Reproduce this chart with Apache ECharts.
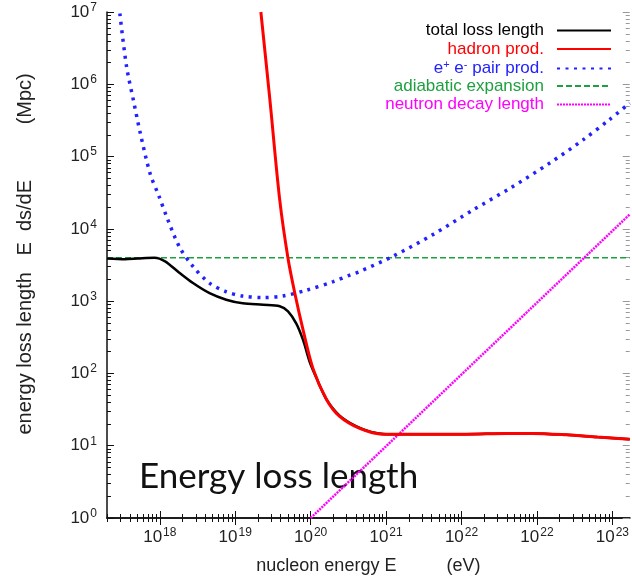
<!DOCTYPE html>
<html style="height: 100%">
<head>
<meta charset="utf-8">
<title>Energy loss length</title>
<script src="https://cdn.jsdelivr.net/npm/echarts@6/dist/echarts.min.js"></script>
</head>
<body style="height: 100%; margin: 0; background: #fff">
<div id="container" style="width:632px;height:582px"></div>
<script>
// all positions on the axes are log10 of the value
var xTickPos = [18, 19, 20, 21, 22, 23, 24];
var xTickExp = ['18', '19', '20', '21', '22', '22', '23'];   // as printed on the original
var yTickPos = [0, 1, 2, 3, 4, 5, 6, 7];

var totalE = [17.30, 17.54, 17.71, 17.93, 18.07, 18.25, 18.44, 18.66, 18.88, 19.10, 19.37, 19.59, 19.70, 19.81, 19.90, 19.99, 20.08, 20.21, 20.38, 20.60, 20.80, 21.00, 21.40, 22.06, 22.60, 22.94, 23.39, 23.80, 24.23];
var totalL = [3.59, 3.58, 3.59, 3.60, 3.55, 3.40, 3.25, 3.11, 3.02, 2.97, 2.95, 2.93, 2.86, 2.69, 2.46, 2.15, 1.93, 1.64, 1.42, 1.27, 1.19, 1.16, 1.16, 1.16, 1.17, 1.17, 1.15, 1.12, 1.09];

var hadronE = [19.34, 19.46, 19.59, 19.70, 19.79, 19.90, 20.03, 20.21, 20.38, 20.65, 20.96, 21.40, 22.06, 22.60, 22.94, 23.39, 23.80, 24.23];
var hadronL = [7.00, 5.78, 4.40, 3.59, 3.11, 2.60, 2.07, 1.64, 1.41, 1.24, 1.16, 1.16, 1.16, 1.17, 1.17, 1.15, 1.12, 1.09];

var pairE = [17.47, 17.56, 17.65, 17.74, 17.87, 17.99, 18.09, 18.26, 18.44, 18.66, 18.88, 19.10, 19.37, 19.63, 19.94, 20.30, 20.52, 20.65, 21.09, 21.62, 22.15, 22.64, 23.17, 23.61, 23.96, 24.23];
var pairL = [6.98, 6.24, 5.78, 5.33, 4.77, 4.45, 4.17, 3.75, 3.48, 3.25, 3.13, 3.07, 3.05, 3.07, 3.15, 3.27, 3.36, 3.41, 3.62, 3.92, 4.26, 4.56, 4.91, 5.23, 5.51, 5.74];

var adiabE = [17.30, 24.23];
var adiabL = [3.60, 3.60];

var neutronE = [20.00, 24.23];
var neutronL = [0.00, 4.20];

var names = ['total loss length', 'hadron prod.', 'e+ e- pair prod.', 'adiabatic expansion', 'neutron decay length'];
var colors = ['#000000', '#ff0000', '#2222ff', '#1fa040', '#ff00ff'];

function zip(a, b) {
    var out = [];
    for (var i = 0; i < a.length; i++) out.push([a[i], b[i]]);
    return out;
}

var X_MIN = 17.30, X_MAX = 24.23;

function minorTicks(lo, hi) {
    var out = [];
    for (var d = Math.floor(lo); d <= hi; d++) {
        for (var k = 2; k <= 9; k++) {
            var v = d + Math.log10(k);
            if (v > lo && v < hi) out.push(v);
        }
    }
    return out;
}

var labelFont = 'Liberation Sans';
var richLabel = {
    b: {fontSize: 17, fontFamily: labelFont, color: '#222'},
    s: {fontSize: 12, fontFamily: labelFont, color: '#222', padding: [0, 0, 9, 1]}
};

function xAxisDef(pos, major, withLabel) {
    return {
        type: 'value', position: pos, min: X_MIN, max: X_MAX,
        axisLine: {show: major, lineStyle: {color: '#111', width: 1.5}},
        splitLine: {show: false},
        axisTick: {
            show: true, inside: true, length: major ? 7 : 4,
            lineStyle: {color: '#111', width: 1},
            customValues: major ? xTickPos : minorTicks(X_MIN, X_MAX)
        },
        axisLabel: {
            show: withLabel, margin: 9, customValues: xTickPos,
            formatter: function (v) {
                var i = xTickPos.indexOf(Math.round(v));
                return '{b|10}{s|' + xTickExp[i] + '}';
            },
            rich: richLabel
        },
        name: withLabel ? 'nucleon energy E          (eV)' : '',
        nameLocation: 'middle', nameGap: 39,
        nameTextStyle: {fontSize: 18, fontFamily: labelFont, color: '#222'}
    };
}

function yAxisDef(pos, major, withLabel, lineColor) {
    return {
        type: 'value', position: pos, min: 0, max: 7,
        axisLine: {show: major && pos === 'left', lineStyle: {color: '#111', width: 1.5}},
        splitLine: {show: false},
        axisTick: {
            show: true, inside: true, length: major ? 7 : 4,
            lineStyle: {color: lineColor, width: 1},
            customValues: major ? yTickPos : minorTicks(0, 7)
        },
        axisLabel: {
            show: withLabel, margin: 10, customValues: yTickPos,
            formatter: function (v) { return '{b|10}{s|' + Math.round(v) + '}'; },
            rich: richLabel
        },
        name: withLabel ? '    energy loss length   E  ds/dE          (Mpc)' : '',
        nameLocation: 'middle', nameGap: 72,
        nameTextStyle: {fontSize: 20, fontFamily: labelFont, color: '#222'}
    };
}

var dom = document.getElementById('container');
var myChart = echarts.init(dom);

var legendRows = [22, 40.5, 59, 77.5, 96];
var legends = [];
for (var i = 0; i < names.length; i++) {
    var lg = {
        right: 20, top: legendRows[i], align: 'right', padding: 0,
        itemWidth: 54, itemHeight: 14,
        itemStyle: {opacity: 0},
        data: [{name: names[i], textStyle: {color: colors[i]}}],
        textStyle: {fontSize: 17, fontFamily: labelFont, padding: [0, 8, 0, 0]},
        selectedMode: false
    };
    if (i === 2) {
        lg.formatter = '{a|e}{s|+}{a| e}{s|-}{a| pair prod.}';
        lg.textStyle.rich = {
            a: {fontSize: 17, fontFamily: labelFont, color: colors[2]},
            s: {fontSize: 11, fontFamily: labelFont, color: colors[2], padding: [0, 0, 8, 0]}
        };
    }
    legends.push(lg);
}

var option = {
    animation: false,
    backgroundColor: '#fff',
    grid: {left: 107, right: 2, top: 12, bottom: 64},
    legend: legends,
    xAxis: [
        xAxisDef('bottom', true, true),
        xAxisDef('bottom', false, false),
        xAxisDef('top', true, false),
        xAxisDef('top', false, false)
    ],
    yAxis: [
        yAxisDef('left', true, true, '#111'),
        yAxisDef('left', false, false, '#111'),
        yAxisDef('right', true, false, '#999'),
        yAxisDef('right', false, false, '#999')
    ],
    graphic: [{
        type: 'text', left: 139, top: 459,
        style: {text: 'Energy loss length', fontSize: 35, fontFamily: 'Lato', fill: '#111'}
    }],
    series: [
        {
            name: names[3], type: 'line', data: zip(adiabE, adiabL), showSymbol: false, symbol: 'none',
            lineStyle: {color: colors[3], width: 1.5, type: [6, 3]}, itemStyle: {color: colors[3]}, z: 1
        },
        {
            name: names[4], type: 'line', data: zip(neutronE, neutronL), showSymbol: false, symbol: 'none',
            lineStyle: {color: colors[4], width: 2.5, type: [2, 1]}, itemStyle: {color: colors[4]}, z: 2
        },
        {
            name: names[2], type: 'line', data: zip(pairE, pairL), showSymbol: false, symbol: 'none',
            smooth: 0.3,
            lineStyle: {color: colors[2], width: 3.5, type: [3, 5.5], cap: 'butt'}, itemStyle: {color: colors[2]}, z: 3
        },
        {
            name: names[0], type: 'line', data: zip(totalE, totalL), showSymbol: false, symbol: 'none',
            smooth: 0.3,
            lineStyle: {color: colors[0], width: 2.5}, itemStyle: {color: colors[0]}, z: 4
        },
        {
            name: names[1], type: 'line', data: zip(hadronE, hadronL), showSymbol: false, symbol: 'none',
            smooth: 0.3,
            lineStyle: {color: colors[1], width: 3}, itemStyle: {color: colors[1]}, z: 5
        }
    ]
};

myChart.setOption(option);
</script>
</body>
</html>
